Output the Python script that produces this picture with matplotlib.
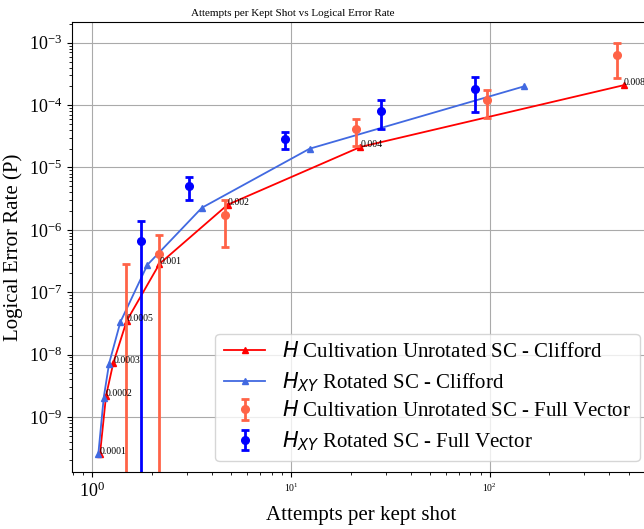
import matplotlib
matplotlib.use("Agg")
import matplotlib.pyplot as plt

plt.rcParams['font.family'] = ['Liberation Serif', 'DejaVu Serif']
plt.rcParams['mathtext.fontset'] = 'dejavusans'

# Clifford simulations: physical error rate p, attempts per kept shot, logical error rate
p_labels = [0.0001, 0.0002, 0.0003, 0.0005, 0.001, 0.002, 0.004, 0.008]
cult_attempts = [1.093, 1.172, 1.276, 1.49, 2.175, 4.79, 22.3, 473]
cult_ler = [2.56e-10, 2.17e-9, 7.43e-9, 3.48e-8, 2.84e-7, 2.52e-6, 2.13e-5, 2.09e-4]

hxy_attempts = [1.072, 1.141, 1.214, 1.384, 1.892, 3.56, 12.4, 149.6]
hxy_ler = [2.56e-10, 2.04e-9, 7.16e-9, 3.32e-8, 2.74e-7, 2.26e-6, 2.0e-5, 2.01e-4]

# Full state-vector simulations with error bars
fv_cult_attempts = [1.48, 2.17, 4.66, 21.3, 96.6, 436]
fv_cult_ler = [0.0, 4.11e-7, 1.76e-6, 4.1e-5, 1.19e-4, 6.27e-4]
fv_cult_err = [2.84e-7, 4.2e-7, 1.22e-6, 1.9e-5, 5.6e-5, 3.55e-4]

fv_hxy_attempts = [1.753, 3.08, 9.35, 28.3, 84.7]
fv_hxy_ler = [6.73e-7, 5.02e-6, 2.83e-5, 8.15e-5, 1.82e-4]
fv_hxy_err = [6.9e-7, 2.0e-6, 8.3e-6, 3.95e-5, 1.03e-4]

fig = plt.figure(figsize=(6.44, 5.29), dpi=100)
ax = fig.add_axes([0.1113, 0.1083, 0.898, 0.8495])

ax.plot(cult_attempts, cult_ler, '-^', color='red', markersize=5, linewidth=1.3,
        label=r'$H$ Cultivation Unrotated SC - Clifford')
ax.plot(hxy_attempts, hxy_ler, '-^', color='royalblue', markersize=5, linewidth=1.3,
        label=r'$H_{XY}$ Rotated SC - Clifford')

ax.errorbar(fv_cult_attempts, fv_cult_ler, yerr=fv_cult_err, fmt='o',
            color='tomato', markersize=5.5, capsize=2.6, elinewidth=2, capthick=2,
            label=r'$H$ Cultivation Unrotated SC - Full Vector')
ax.errorbar(fv_hxy_attempts, fv_hxy_ler, yerr=fv_hxy_err, fmt='o',
            color='blue', markersize=5.5, capsize=2.6, elinewidth=2, capthick=2,
            label=r'$H_{XY}$ Rotated SC - Full Vector')

for xv, yv, p in zip(cult_attempts, cult_ler, p_labels):
    ax.text(xv, yv, f'{p:g}', fontsize=7)

ax.set_xscale('log')
ax.set_yscale('log')
ax.set_xlim(0.787, 641)
ax.set_ylim(1.32e-10, 2.13e-3)

ax.grid(True, which='major', color='#aaaaaa', linewidth=0.8)
ax.set_axisbelow(True)

ax.set_xticks([1, 10, 100])
xt = ax.set_xticklabels([r'$\mathdefault{10^{0}}$', r'$\mathdefault{10^{1}}$',
                         r'$\mathdefault{10^{2}}$'], fontsize=7)
xt[0].set_fontsize(13)
ax.tick_params(axis='y', which='major', labelsize=13)

ax.set_xlabel('Attempts per kept shot', fontsize=15)
ax.set_ylabel('Logical Error Rate (P)', fontsize=15)

ax.legend(loc='lower right', fontsize=15, labelspacing=0.38)

fig.text(293 / 644, 1 - 13 / 529, 'Attempts per Kept Shot vs Logical Error Rate',
         ha='center', va='center', fontsize=8)

fig.savefig('out.png', dpi=100)
